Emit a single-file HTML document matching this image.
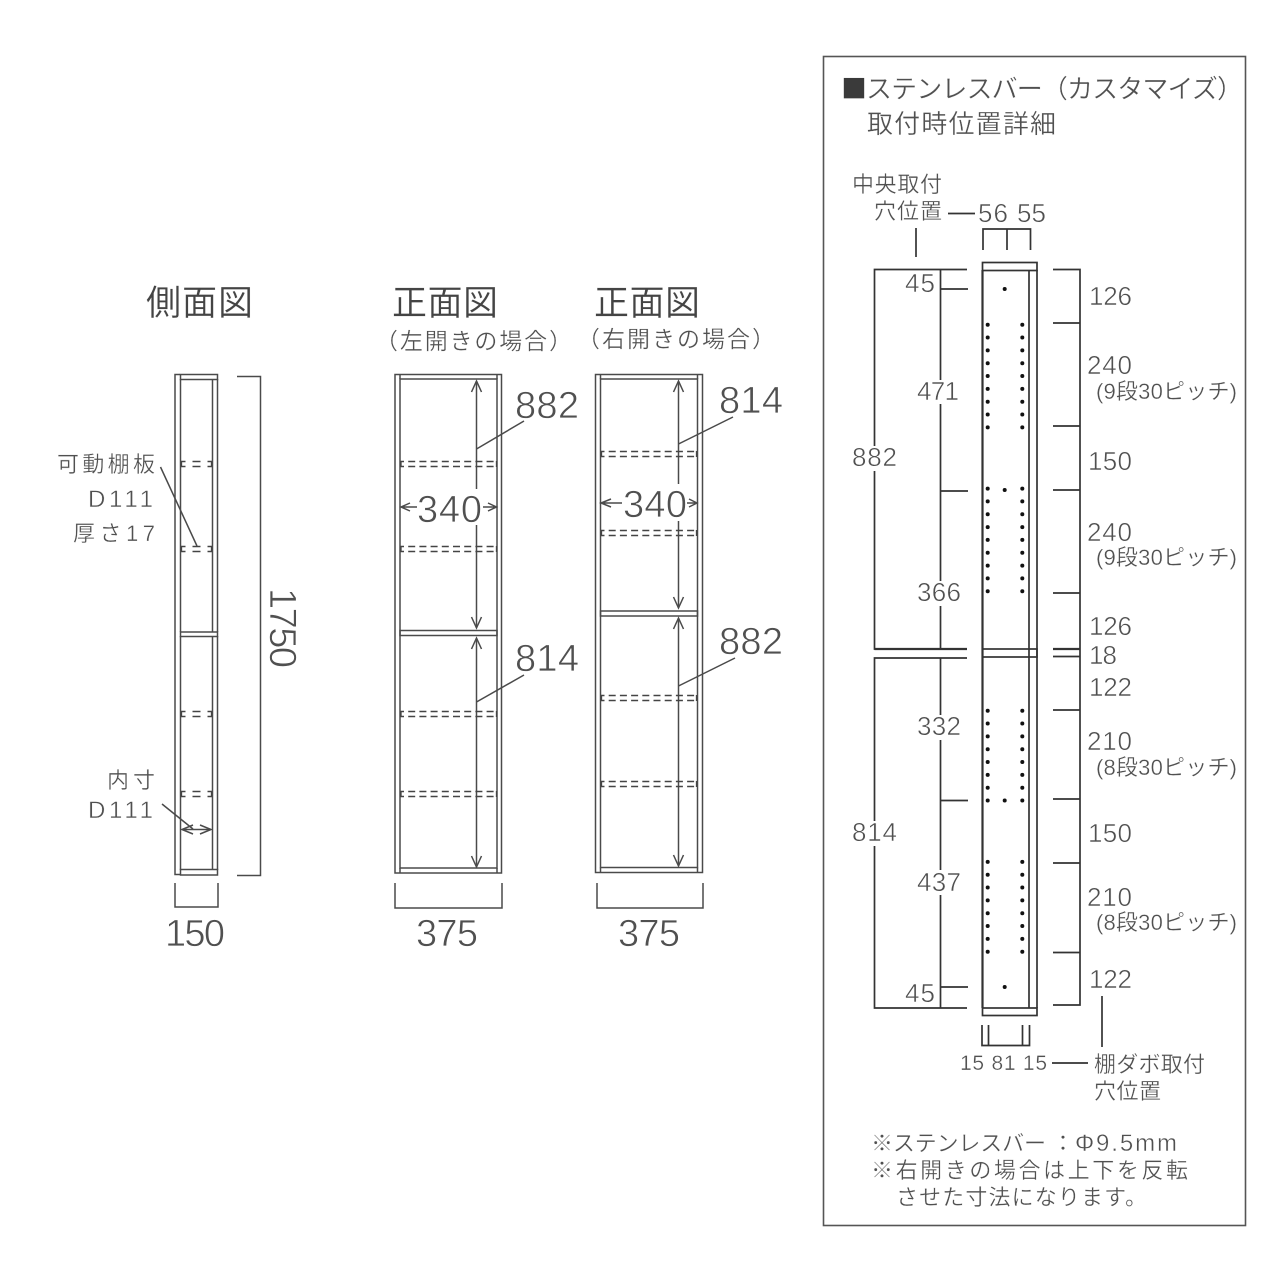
<!DOCTYPE html>
<html lang="ja"><head><meta charset="utf-8"><title>図面</title>
<style>
html,body{margin:0;padding:0;background:#fff;width:1280px;height:1280px;overflow:hidden}
svg{display:block}
text{font-family:"Liberation Sans","Noto Sans CJK JP",sans-serif;fill:#505050;stroke:#fff;stroke-width:.3}
.n{font-size:38px;stroke-width:.65}
.m{font-size:26px;stroke-width:.5}
.j{font-size:22px}
.k{font-size:24px;stroke-width:.4}
.t{font-size:35px;fill:#444;stroke-width:.2}
.l line,.l path,.l rect{fill:none;stroke:#4a4a4a;stroke-width:1.5}
.s line{stroke:#444;stroke-width:1.5;stroke-dasharray:4.5 7 8 7 4.5}
.d line{stroke:#444;stroke-width:1.5;stroke-dasharray:3.5 4.2 7 4.2 7 4.2 7 4.2 7 4.2 7 4.2 7 4.2 7 4.2 7 4.2 3.5}
.c{fill:none;stroke:#444;stroke-width:1.3}
.b line,.b path,.b rect{fill:none;stroke:#333;stroke-width:1.7}
</style></head><body>
<svg width="1280" height="1280" viewBox="0 0 1280 1280" xmlns="http://www.w3.org/2000/svg">
<defs>
<g id="dots9"><circle cx="0" cy="0" r="2"/><circle cx="0" cy="12.83" r="2"/><circle cx="0" cy="25.66" r="2"/><circle cx="0" cy="38.5" r="2"/><circle cx="0" cy="51.33" r="2"/><circle cx="0" cy="64.16" r="2"/><circle cx="0" cy="77" r="2"/><circle cx="0" cy="89.83" r="2"/><circle cx="0" cy="102.66" r="2"/></g>
<g id="dots8"><circle cx="0" cy="0" r="2"/><circle cx="0" cy="12.83" r="2"/><circle cx="0" cy="25.66" r="2"/><circle cx="0" cy="38.5" r="2"/><circle cx="0" cy="51.33" r="2"/><circle cx="0" cy="64.16" r="2"/><circle cx="0" cy="77" r="2"/><circle cx="0" cy="89.83" r="2"/></g>
</defs>

<!-- 側面図 -->
<text class="t" x="146" y="315" textLength="107">側面図</text>
<g class="l">
<path d="M180 374.5H175V874.5H180"/>
<rect x="180.5" y="374.5" width="37" height="5"/>
<line x1="180.5" y1="379" x2="180.5" y2="632"/>
<line x1="212.5" y1="379" x2="212.5" y2="632"/>
<line x1="217.5" y1="379" x2="217.5" y2="632"/>
<rect x="180.5" y="632" width="37" height="4.5"/>
<line x1="180.5" y1="636" x2="180.5" y2="870"/>
<line x1="212.5" y1="636" x2="212.5" y2="870"/>
<line x1="217.5" y1="636" x2="217.5" y2="870"/>
<rect x="180.5" y="869.5" width="37" height="5.5"/>
<path d="M237 376.5H260.5V875.5H237"/>
<path d="M175 883V907H218V883"/>
<line x1="160.5" y1="467" x2="197" y2="546"/>
<line x1="162" y1="804" x2="193" y2="829"/>
<line x1="182" y1="829.5" x2="211" y2="829.5"/>
<path d="M193 825L182 829.5L193 834M200 825L211 829.5L200 834"/>
</g>
<g class="s">
<line x1="181" y1="461.5" x2="212" y2="461.5"/><line x1="181" y1="466.5" x2="212" y2="466.5"/>
<line x1="181" y1="546.5" x2="212" y2="546.5"/><line x1="181" y1="551.5" x2="212" y2="551.5"/>
<line x1="181" y1="711.5" x2="212" y2="711.5"/><line x1="181" y1="716.5" x2="212" y2="716.5"/>
<line x1="181" y1="791.5" x2="212" y2="791.5"/><line x1="181" y1="796.5" x2="212" y2="796.5"/>
</g>
<path class="c" d="M181.5 461V467M211.5 461V467M181.5 546V552M211.5 546V552M181.5 711V717M211.5 711V717M181.5 791V797M211.5 791V797"/>
<text class="j" x="57" y="472" textLength="98">可動棚板</text>
<text class="k" x="88" y="507" textLength="65">D111</text>
<text class="j" x="73" y="541" textLength="82">厚さ17</text>
<text class="j" x="107" y="788" textLength="48">内寸</text>
<text class="k" x="88" y="818" textLength="65">D111</text>
<text class="n" x="0" y="0" transform="translate(270,588) rotate(90)" textLength="80">1750</text>
<text class="n" x="165" y="946" textLength="60">150</text>

<!-- 正面図 左 -->
<text class="t" x="392" y="315" textLength="106">正面図</text>
<text class="j" x="375" y="349" textLength="197" style="font-size:23px">（左開きの場合）</text>
<g class="l">
<rect x="395" y="374.5" width="106.5" height="498.5"/>
<rect x="400" y="379" width="97" height="489"/>
<path d="M400 374.5V379M497 374.5V379M400 868V873M497 868V873"/>
<rect x="400" y="630.5" width="97" height="5"/>
<path d="M395 883V908H502V883"/>
<line x1="476.5" y1="381" x2="476.5" y2="489"/>
<line x1="476.5" y1="525" x2="476.5" y2="628"/>
<line x1="476.5" y1="638" x2="476.5" y2="867"/>
<path d="M471.5 392L476.5 381L481.5 392M471.5 617L476.5 628L481.5 617M471.5 649L476.5 638L481.5 649M471.5 856L476.5 867L481.5 856"/>
<line x1="476.5" y1="449" x2="524" y2="421"/>
<line x1="476.5" y1="702" x2="524" y2="675"/>
<path d="M401 507H417M410 503L401 507L410 511M483 507H496.5M488 503L496.5 507L488 511"/>
</g>
<g class="d">
<line x1="400.5" y1="461.5" x2="497" y2="461.5"/><line x1="400.5" y1="466.5" x2="497" y2="466.5"/>
<line x1="400.5" y1="546.5" x2="497" y2="546.5"/><line x1="400.5" y1="551.5" x2="497" y2="551.5"/>
<line x1="400.5" y1="711.5" x2="497" y2="711.5"/><line x1="400.5" y1="716.5" x2="497" y2="716.5"/>
<line x1="400.5" y1="791.5" x2="497" y2="791.5"/><line x1="400.5" y1="796.5" x2="497" y2="796.5"/>
</g>
<path class="c" d="M401 461V467M496.5 461V467M401 546V552M496.5 546V552M401 711V717M496.5 711V717M401 791V797M496.5 791V797"/>
<text class="n" x="515" y="418" textLength="64">882</text>
<text class="n" x="515" y="671" textLength="64">814</text>
<text class="n" x="417" y="522" textLength="65">340</text>
<text class="n" x="416" y="946" textLength="62">375</text>

<!-- 正面図 右 -->
<text class="t" x="594" y="315" textLength="106">正面図</text>
<text class="j" x="577" y="347" textLength="198" style="font-size:23px">（右開きの場合）</text>
<g class="l">
<rect x="595.5" y="374.5" width="107" height="498"/>
<rect x="600.5" y="379" width="97" height="488.5"/>
<path d="M600.5 374.5V379M697.5 374.5V379M600.5 867.5V872.5M697.5 867.5V872.5"/>
<rect x="600.5" y="611" width="97" height="5"/>
<path d="M597 883V908H703V883"/>
<line x1="678.5" y1="381" x2="678.5" y2="484"/>
<line x1="678.5" y1="521" x2="678.5" y2="608"/>
<line x1="678.5" y1="618" x2="678.5" y2="866"/>
<path d="M673.5 392L678.5 381L683.5 392M673.5 597L678.5 608L683.5 597M673.5 629L678.5 618L683.5 629M673.5 855L678.5 866L683.5 855"/>
<line x1="678.5" y1="444" x2="733" y2="417"/>
<line x1="678.5" y1="686" x2="735" y2="658"/>
<path d="M601 503H622M611 499L601 503L611 507M687 503H697M689 499L697 503L689 507"/>
</g>
<g class="d">
<line x1="601" y1="451.5" x2="697" y2="451.5"/><line x1="601" y1="456.5" x2="697" y2="456.5"/>
<line x1="601" y1="530.5" x2="697" y2="530.5"/><line x1="601" y1="535.5" x2="697" y2="535.5"/>
<line x1="601" y1="695.5" x2="697" y2="695.5"/><line x1="601" y1="700.5" x2="697" y2="700.5"/>
<line x1="601" y1="781.5" x2="697" y2="781.5"/><line x1="601" y1="786.5" x2="697" y2="786.5"/>
</g>
<path class="c" d="M601.5 451V457M696.5 451V457M601.5 530V536M696.5 530V536M601.5 695V701M696.5 695V701M601.5 781V787M696.5 781V787"/>
<text class="n" x="719" y="413" textLength="64">814</text>
<text class="n" x="719" y="654" textLength="64">882</text>
<text class="n" x="623" y="517" textLength="64">340</text>
<text class="n" x="618" y="946" textLength="62">375</text>

<!-- パネル -->
<rect x="823.5" y="56.5" width="422" height="1169" fill="none" stroke="#555" stroke-width="1.6"/>
<text x="841" y="98" font-size="26" style="font-family:'Noto Sans CJK JP',sans-serif;fill:#3a3a3a">■</text>
<text x="866" y="98" font-size="26" textLength="377">ステンレスバー（カスタマイズ）</text>
<text x="867" y="133" font-size="26" textLength="189">取付時位置詳細</text>
<text class="j" x="852" y="192" textLength="90">中央取付</text>
<text class="j" x="874" y="219" textLength="68">穴位置</text>
<text class="m" x="978" y="222" textLength="30">56</text>
<text class="m" x="1017" y="222" textLength="29">55</text>

<g class="b">
<line x1="948" y1="213.5" x2="975" y2="213.5"/>
<path d="M983 250V229H1030.5V250M1007 229V250"/>
<line x1="916" y1="228" x2="916" y2="257"/>
<!-- left dims -->
<path d="M967 269.5H874.5V446M874.5 471V649H967"/>
<path d="M967 658H874.5V821M874.5 846V1008H967"/>
<path d="M940.5 270V380M940.5 404V581M940.5 606V649M940.5 658V715M940.5 740V870M940.5 895V1008"/>
<line x1="941" y1="289" x2="968" y2="289"/>
<line x1="941" y1="491" x2="968" y2="491"/>
<line x1="941" y1="800.5" x2="968" y2="800.5"/>
<line x1="941" y1="987" x2="968" y2="987"/>
<line x1="874.5" y1="649" x2="967" y2="649" style="stroke-width:2.2"/>
<!-- bar -->
<rect x="982.5" y="262.5" width="54.5" height="8"/>
<rect x="982.5" y="649" width="54.5" height="8"/>
<rect x="982.5" y="1008" width="54.5" height="7.5"/>
<path d="M982.5 270V1008" style="stroke-width:2.2"/>
<path d="M1029 270V1008M1037 270V1008"/>
<!-- right dims -->
<path d="M1053 269.5H1080V1005H1053"/>
<line x1="1053" y1="323" x2="1080" y2="323"/>
<line x1="1053" y1="426" x2="1080" y2="426"/>
<line x1="1053" y1="490" x2="1080" y2="490"/>
<line x1="1053" y1="593" x2="1080" y2="593"/>
<line x1="1053" y1="649" x2="1080" y2="649" style="stroke-width:2.2"/>
<line x1="1053" y1="656.5" x2="1080" y2="656.5"/>
<line x1="1053" y1="710" x2="1080" y2="710"/>
<line x1="1053" y1="799" x2="1080" y2="799"/>
<line x1="1053" y1="863" x2="1080" y2="863"/>
<line x1="1053" y1="952.5" x2="1080" y2="952.5"/>
<!-- bottom -->
<path d="M982 1025V1045.5H1029.5V1025M988.5 1025V1045.5M1022.5 1025V1045.5"/>
<line x1="1052" y1="1063" x2="1088" y2="1063"/>
<line x1="1102" y1="996" x2="1102" y2="1047"/>
</g>

<g fill="#111">
<use href="#dots9" x="987.7" y="324.7"/><use href="#dots9" x="1022.3" y="324.7"/>
<use href="#dots9" x="987.7" y="488.6"/><use href="#dots9" x="1022.3" y="488.6"/>
<use href="#dots8" x="987.7" y="710.7"/><use href="#dots8" x="1022.3" y="710.7"/>
<use href="#dots8" x="987.7" y="861.9"/><use href="#dots8" x="1022.3" y="861.9"/>
<circle cx="1004.7" cy="289" r="2"/><circle cx="1004.7" cy="490" r="2"/><circle cx="1004.7" cy="800.5" r="2"/><circle cx="1004.7" cy="987" r="2"/>
</g>

<text class="m" x="905" y="292" textLength="30">45</text>
<text class="m" x="905" y="1002" textLength="30">45</text>
<text class="m" x="917" y="400" textLength="42">471</text>
<text class="m" x="917" y="601" textLength="44">366</text>
<text class="m" x="917" y="735" textLength="44">332</text>
<text class="m" x="917" y="891" textLength="44">437</text>
<text class="m" x="852" y="466" textLength="45">882</text>
<text class="m" x="852" y="841" textLength="45">814</text>

<text class="m" x="1089" y="305" textLength="43">126</text>
<text class="m" x="1087" y="374" textLength="45">240</text>
<text class="j" x="1096" y="399" textLength="141">(9段30ピッチ)</text>
<text class="m" x="1088" y="470" textLength="44">150</text>
<text class="m" x="1087" y="541" textLength="45">240</text>
<text class="j" x="1096" y="565" textLength="141">(9段30ピッチ)</text>
<text class="m" x="1089" y="635" textLength="43">126</text>
<text class="m" x="1089" y="664" textLength="28">18</text>
<text class="m" x="1089" y="696" textLength="43">122</text>
<text class="m" x="1087" y="750" textLength="45">210</text>
<text class="j" x="1096" y="775" textLength="141">(8段30ピッチ)</text>
<text class="m" x="1088" y="842" textLength="44">150</text>
<text class="m" x="1087" y="906" textLength="45">210</text>
<text class="j" x="1096" y="930" textLength="141">(8段30ピッチ)</text>
<text class="m" x="1089" y="988" textLength="43">122</text>

<text x="960" y="1070" font-size="21" textLength="87" xml:space="preserve">15 81 15</text>
<text class="j" x="1094" y="1072" textLength="111">棚ダボ取付</text>
<text class="j" x="1094" y="1099" textLength="67">穴位置</text>
<text class="j" x="871" y="1151" textLength="175">※ステンレスバー</text>
<text class="j" x="1052" y="1151">：</text>
<text class="k" x="1075" y="1151" textLength="102">Φ9.5mm</text>
<text class="j" x="871" y="1178" textLength="317">※右開きの場合は上下を反転</text>
<text class="j" x="896" y="1205" textLength="251">させた寸法になります。</text>
</svg>
</body></html>
